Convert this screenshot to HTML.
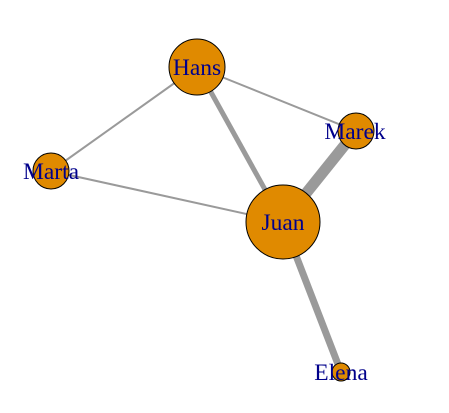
<!DOCTYPE html>
<html><head><style>body{margin:0;background:#fff}</style></head><body>
<svg width="449" height="408" xmlns="http://www.w3.org/2000/svg">
<g stroke="#9a9a9a" stroke-linecap="butt">
<line x1="197" y1="67" x2="51" y2="171" stroke-width="2"/>
<line x1="197" y1="67" x2="356" y2="131" stroke-width="2"/>
<line x1="197" y1="67" x2="283" y2="222" stroke-width="5"/>
<line x1="51" y1="171" x2="283" y2="222" stroke-width="2"/>
<line x1="356" y1="131" x2="283" y2="222" stroke-width="11"/>
<line x1="283" y1="222" x2="341" y2="372" stroke-width="7"/>
</g>
<g fill="#E08A00" stroke="#000" stroke-width="1">
<circle cx="197" cy="67" r="28"/>
<circle cx="356" cy="131" r="18"/>
<circle cx="51" cy="171" r="18"/>
<circle cx="283" cy="222" r="37"/>
<circle cx="341" cy="372" r="9"/>
</g>
<g fill="#00008B" font-family="Liberation Serif, serif" font-size="23.5" text-anchor="middle" dominant-baseline="central">
<text x="197" y="68">Hans</text>
<text x="355" y="132">Marek</text>
<text x="51" y="172">Marta</text>
<text x="283" y="223">Juan</text>
<text x="341" y="373">Elena</text>
</g>
</svg>
</body></html>
